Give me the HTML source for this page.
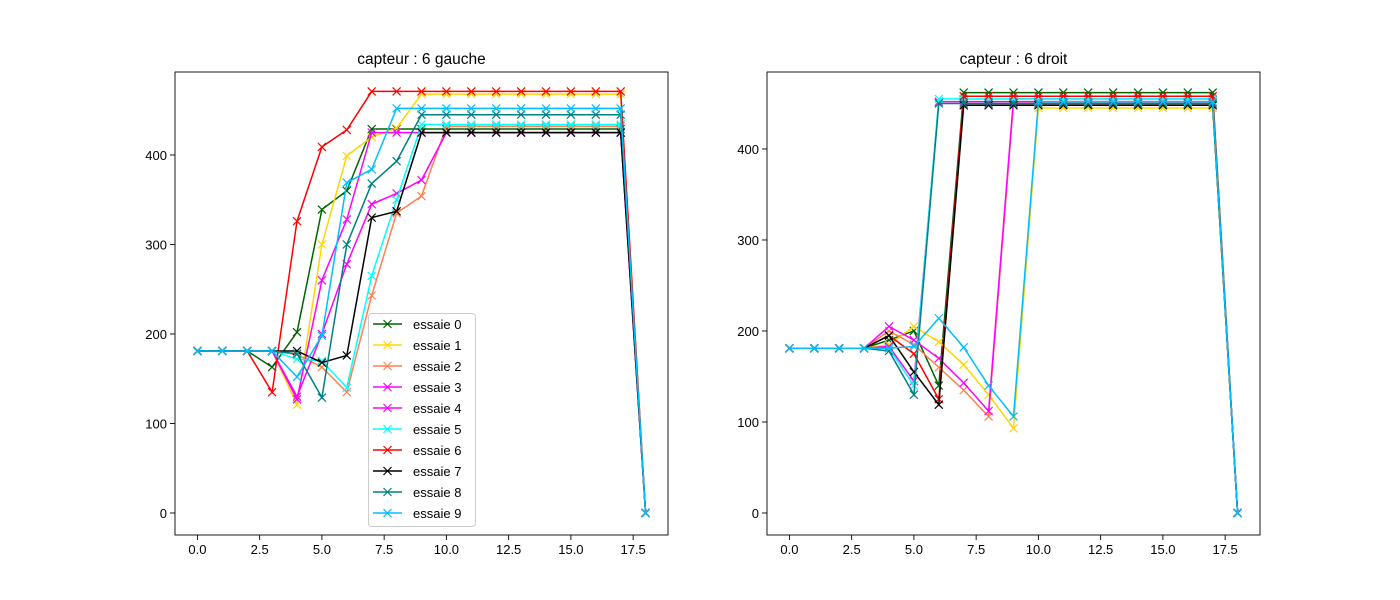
<!DOCTYPE html>
<html><head><meta charset="utf-8"><style>
body{margin:0;background:#fff;}
svg{display:block;font-family:"Liberation Sans","DejaVu Sans",sans-serif;}
</style></head><body>
<svg id="fig" width="1400" height="600"></svg>
<script>
const colors=["#006400","#FFD700","#FF7F50","#FF00FF","#FF00FF","#00FFFF","#FF0000","#000000","#008080","#00BFFF"];
const labels=["essaie 0","essaie 1","essaie 2","essaie 3","essaie 4","essaie 5","essaie 6","essaie 7","essaie 8","essaie 9"];
const xTicks=[0,2.5,5,7.5,10,12.5,15,17.5];
const yTicks=[0,100,200,300,400];
function mk(arr){const b=[181,181,181];const r=b.concat(arr);while(r.length<18)r.push(arr[arr.length-1]);r.push(0);return r;}
const leftData=[
 mk([163,202,339,360,429]),
 mk([181,121,300,399,420,430,468]),
 mk([181,177,163,135,243,335,354,432]),
 mk([181,130,200,278,345,357,372,425]),
 mk([181,127,260,328,425]),
 mk([181,172,170,140,265,350,434]),
 mk([135,326,409,428,471]),
 mk([181,181,168,176,330,337,425]),
 mk([181,178,129,300,368,393,445]),
 mk([181,152,198,369,384,452])
];
const rightData=[
 mk([181,190,200,140,462]),
 mk([181,185,205,188,163,130,93,445]),
 mk([181,200,185,160,135,106,450]),
 mk([181,205,190,170,143,112,455]),
 mk([181,183,145,452]),
 mk([181,181,140,455]),
 mk([181,195,175,125,458]),
 mk([181,195,155,119,448]),
 mk([181,178,130,450]),
 mk([181,181,183,214,182,140,106,452])
];
const NS="http://www.w3.org/2000/svg";
const svg=document.getElementById('fig');
function el(t,a,p){const e=document.createElementNS(NS,t);for(const k in a)e.setAttribute(k,a[k]);(p||svg).appendChild(e);return e;}
function panel(name,title,data,box,xr,yr,legend){
 const g=el('g',{});
 
 
 const X=v=>box.x+(v-xr[0])/(xr[1]-xr[0])*box.w;
 const Y=v=>box.y+box.h-(v-yr[0])/(yr[1]-yr[0])*box.h;
 data.forEach((s,i)=>{
  const sg=el('g',{},g);
  
  
  el('polyline',{points:s.map((v,j)=>X(j)+','+Y(v)).join(' '),fill:'none',stroke:colors[i],'stroke-width':1.5},sg);
  s.forEach((v,j)=>{const cx=X(j),cy=Y(v);
   el('path',{d:`M${cx-4},${cy-4}L${cx+4},${cy+4}M${cx-4},${cy+4}L${cx+4},${cy-4}`,stroke:colors[i],'stroke-width':1.2},sg);});
 });
 const frame=el('rect',{x:box.x,y:box.y,width:box.w,height:box.h,fill:'none',stroke:'#000','stroke-width':0.9},g);
 xTicks.forEach(t=>{const x=X(t);
  el('line',{x1:x,x2:x,y1:box.y+box.h,y2:box.y+box.h+5,stroke:'#000','stroke-width':0.9},g);
  const tx=el('text',{x:x,y:box.y+box.h+19,'text-anchor':'middle','font-size':13},g);tx.textContent=t.toFixed(1);
  
  });
 yTicks.forEach(t=>{const y=Y(t);
  el('line',{x1:box.x-5,x2:box.x,y1:y,y2:y,stroke:'#000','stroke-width':0.9},g);
  const tx=el('text',{x:box.x-8,y:y+5,'text-anchor':'end','font-size':13},g);tx.textContent=t;
  
  });
 const tt=el('text',{x:box.x+box.w/2,y:box.y-8,'text-anchor':'middle','font-size':15.5},g);tt.textContent=title;
 
 
 if(legend){
  const lg=el('g',{},g);
  
  
  el('rect',{x:368.5,y:313.5,width:107,height:213,rx:3,fill:'#fff','fill-opacity':0.8,stroke:'#ccc'},lg);
  labels.forEach((l,i)=>{const y=324+i*21;
   const eg=el('g',{},lg);
   
   
   el('line',{x1:373,x2:402,y1:y,y2:y,stroke:colors[i],'stroke-width':1.5},eg);
   el('path',{d:`M${383.5},${y-4}L${391.5},${y+4}M${383.5},${y+4}L${391.5},${y-4}`,stroke:colors[i],'stroke-width':1.2},eg);
   const t=el('text',{x:413,y:y+5,'font-size':13},eg);t.textContent=l;});
 }
}
panel('left-chart','capteur : 6 gauche',leftData,{x:175,y:72,w:493,h:463},[-0.9,18.9],[-24.6,492.7],true);
panel('right-chart','capteur : 6 droit',rightData,{x:767,y:72,w:493,h:463},[-0.9,18.9],[-24.2,484.6],false);
</script>
</body></html>
